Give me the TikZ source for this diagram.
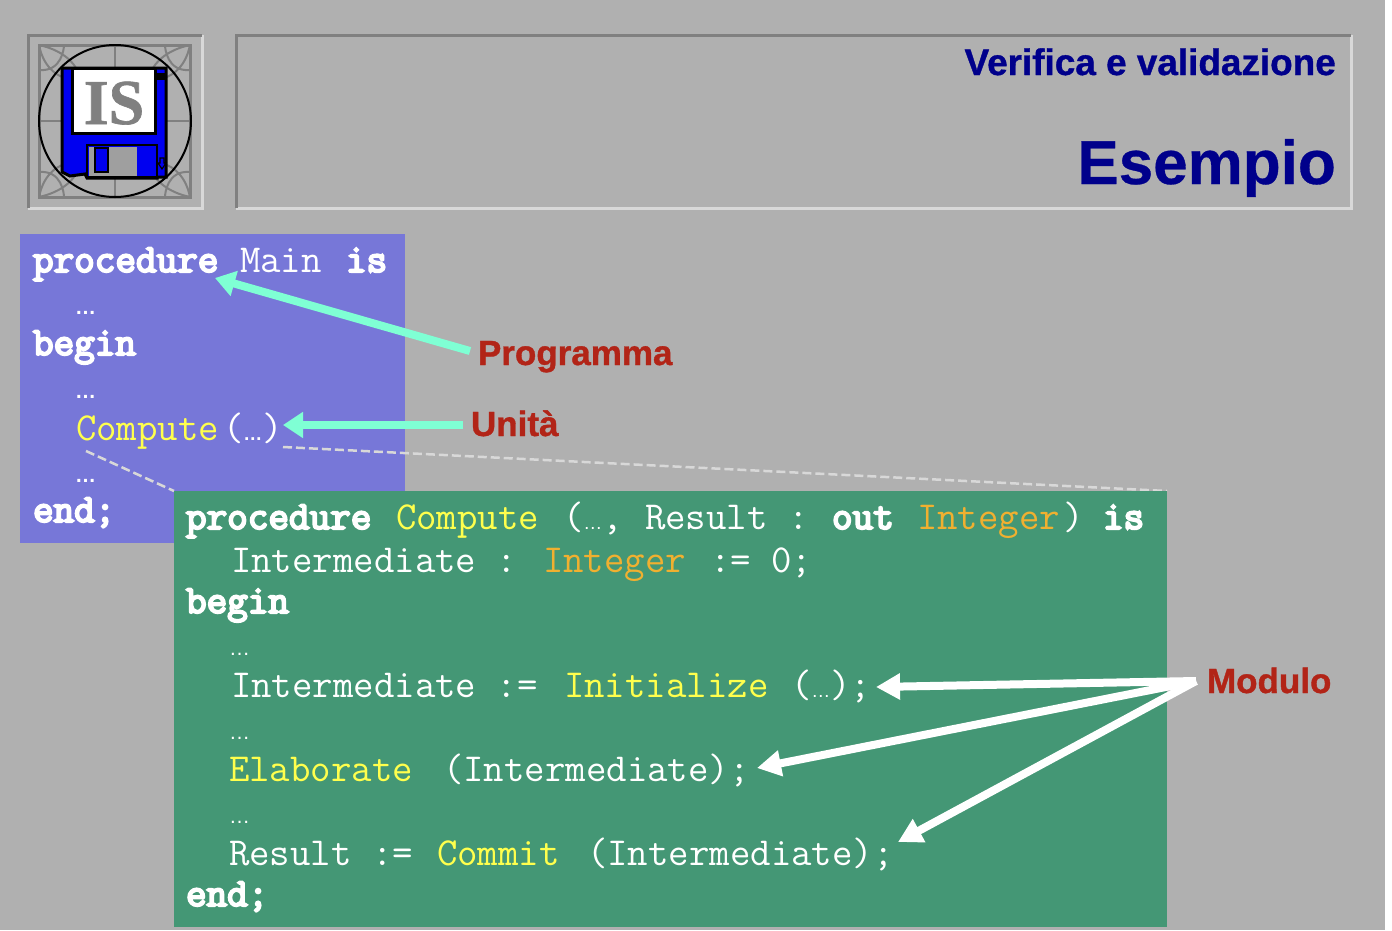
\documentclass[tikz,border=0pt]{standalone}
\usepackage{fontspec}
\setmainfont{Liberation Sans}
\newfontfamily\logofont{Liberation Serif}
\newfontfamily\kwfont[FakeBold=5]{Latin Modern Mono}
\usetikzlibrary{arrows.meta}
\definecolor{bgc}{HTML}{B0B0B0}
\definecolor{bluebox}{HTML}{7777D8}
\definecolor{greenbox}{HTML}{449775}
\definecolor{aqua}{HTML}{7FFFD4}
\definecolor{redl}{HTML}{B22417}
\definecolor{navy}{HTML}{00008B}
\definecolor{yel}{HTML}{FFFF4D}
\definecolor{org}{HTML}{F0B030}
\definecolor{floppy}{HTML}{0000F0}
\definecolor{dark}{HTML}{808080}
\definecolor{lite}{HTML}{D8D8D8}
\newcommand{\dotsb}{\fontsize{19pt}{20pt}\rmfamily\bfseries …}
\newcommand{\dotsg}{\fontsize{19pt}{20pt}\rmfamily …}
\tikzset{
 x=1pt,y=-1pt,
 txt/.style={anchor=base west,inner sep=0pt,outer sep=0pt},
 kw/.style={txt,text=white,font=\fontsize{40pt}{40pt}\kwfont},
 cd/.style={txt,text=white,font=\fontsize{39.7pt}{40pt}\ttfamily},
 cy/.style={cd,text=yel},
 co/.style={cd,text=org},
 dotb/.style={txt,text=white,font=\fontsize{21pt}{22pt}\selectfont\bfseries},
 dotg/.style={txt,text=white,font=\fontsize{21pt}{22pt}\selectfont},
 lab/.style={txt,text=redl,font=\fontsize{35pt}{36pt}\bfseries\addfontfeature{FakeBold=1}},
 aq/.style={draw=aqua,line width=8pt,-{Triangle[length=20pt,width=25pt]}},
 wh/.style={draw=white,line width=8pt,-{Triangle[length=24pt,width=25pt]}},
 dsh/.style={draw=lite,line width=2.5pt,dash pattern=on 9pt off 4pt},
 logoline/.style={draw=dark,line width=2pt},
}
\begin{document}
\begin{tikzpicture}
\useasboundingbox (0,0) rectangle (1392,930);
\fill[bgc] (0,0) rectangle (1392,930);
\fill[white] (1385,0) rectangle (1392,930);
% logo frame
\draw[lite,line width=3pt] (28,208) -- (202,208) -- (202,35);
\draw[dark,line width=3pt] (28,208) -- (28,35) -- (202,35);
\draw[logoline,line width=3pt] (39,45) rectangle (190,197);
\draw[logoline] (115,45) -- (115,197) (39,121) -- (190,121);
\draw[logoline] (39,70) .. controls (62,72) and (64,48) .. (64,45) (39,45) .. controls (44,70) and (60,78) .. (72,80) (39,45) .. controls (62,50) and (74,62) .. (78,72);
\draw[logoline] (190,70) .. controls (167,72) and (165,48) .. (165,45) (190,45) .. controls (185,70) and (169,78) .. (157,80) (190,45) .. controls (167,50) and (155,62) .. (151,72);
\draw[logoline] (39,172) .. controls (62,170) and (64,194) .. (64,197) (39,197) .. controls (44,172) and (60,164) .. (72,162) (39,197) .. controls (62,192) and (74,180) .. (78,170);
\draw[logoline] (190,172) .. controls (167,170) and (165,194) .. (165,197) (190,197) .. controls (185,172) and (169,164) .. (157,162) (190,197) .. controls (167,192) and (155,180) .. (151,170);
% floppy
\filldraw[fill=floppy,draw=black,line width=3pt] (62,68) -- (166,68) -- (166,177) -- (157,177) -- (157,178) -- (87,178) -- (85,174) -- (70,176) -- (62,172) -- cycle;
\filldraw[fill=white,draw=black,line width=3pt] (72,68) rectangle (155,133);
\filldraw[fill=floppy,draw=black,line width=2.5pt] (87,145) rectangle (157,177);
\fill[fill=gray!75] (89,147) rectangle (137,176);
\filldraw[fill=floppy,draw=black,line width=2.5pt] (95,148) rectangle (108,172);
\fill[black] (157,73) rectangle (165,80);
\draw[black,line width=1.2pt] (160,158) -- (164,158) -- (164,163) -- (166,163) -- (162,169) -- (158,163) -- (160,163) -- cycle;
\node[anchor=base,inner sep=0pt,text=gray,font=\fontsize{64pt}{64pt}\logofont\bfseries\addfontfeature{FakeBold=1}] (logois) at (114,124) {IS};
\draw[black,line width=2pt] (115,121) circle (76);
% header
\draw[lite,line width=3pt] (236,208) -- (1351,208) -- (1351,35);
\draw[dark,line width=3pt] (236,208) -- (236,35) -- (1351,35);
\node[anchor=base east,inner sep=0pt,text=navy,font=\fontsize{36.9pt}{38pt}\bfseries\addfontfeature{FakeBold=1}] (h1) at (1336,75) {Verifica e validazione};
\node[anchor=base east,inner sep=0pt,text=navy,font=\fontsize{62pt}{64pt}\bfseries\addfontfeature{FakeBold=0.5}] (h2) at (1336,184) {Esempio};
% blue box
\fill[bluebox] (20,234) rectangle (405,543);
\node[kw] (m1) at (33,272) {procedure};
\node[cd] (m2) at (240,272) {Main};
\node[kw] (m3) at (346,272) {is};
\node[dotb] (m4) at (75,314) {…};
\node[kw] (m5) at (33,355) {begin};
\node[dotb] (m6) at (75,398) {…};
\node[cy] (m7) at (76,440) {Compute};
\node[cd] (m8) at (223,440) {({\dotsb})};
\node[dotb] (m11) at (75,482) {…};
\node[kw] (m12) at (33,522) {end;};
% dashed
\coordinate (da) at (86,451);
\coordinate (db) at (174,491);
\coordinate (dc) at (283,447);
\coordinate (dd) at (1167,491);
\draw[dsh] (da) -- (db);
\draw[dsh] (dc) -- (dd);
% green box
\fill[greenbox] (174,491) rectangle (1167,927);
\node[kw] (g1) at (186,529) {procedure};
\node[cy] (g2) at (396,529) {Compute};
\node[cd] (g3) at (563,529) {({\dotsg},};
\node[cd] (g6) at (645,529) {Result :};
\node[kw] (g7) at (832,529) {out};
\node[co] (g8) at (917,529) {Integer};
\node[cd] (g9) at (1063,529) {)};
\node[kw] (g10) at (1103,529) {is};
\node[cd] (g11) at (231,572) {Intermediate :};
\node[co] (g12) at (543,572) {Integer};
\node[cd] (g13) at (710,572) {:= 0;};
\node[kw] (g14) at (186,613) {begin};
\node[dotg] (g15) at (229,655) {…};
\node[cd] (g16) at (231,697) {Intermediate :=};
\node[cy] (g17) at (564,697) {Initialize};
\node[cd] (g18) at (791,697) {({\dotsg});};
\node[dotg] (g21) at (229,739) {…};
\node[cy] (g22) at (229,781) {Elaborate};
\node[cd] (g23) at (443,781) {(Intermediate);};
\node[dotg] (g24) at (229,823) {…};
\node[cd] (g25) at (229,865) {Result :=};
\node[cy] (g26) at (437,865) {Commit};
\node[cd] (g27) at (587,865) {(Intermediate);};
\node[kw] (g28) at (186,906) {end;};
% labels
\node[lab] (programma) at (478,365) {Programma};
\node[lab] (unita) at (471,436) {Unità};
\node[lab] (modulo) at (1207,693) {Modulo};
% arrows
\coordinate (pa) at (470,351);
\coordinate (pb) at (215,278);
\coordinate (ua) at (463,425);
\coordinate (ub) at (283,425);
\coordinate (mo) at (1196,681);
\coordinate (ma) at (876,687);
\coordinate (mb) at (757,768);
\coordinate (mc) at (898,842);
\draw[aq] (pa) -- (pb);
\draw[aq] (ua) -- (ub);
\draw[wh] (mo) -- (ma);
\draw[wh] (mo) -- (mb);
\draw[wh] (mo) -- (mc);
\end{tikzpicture}
\end{document}
